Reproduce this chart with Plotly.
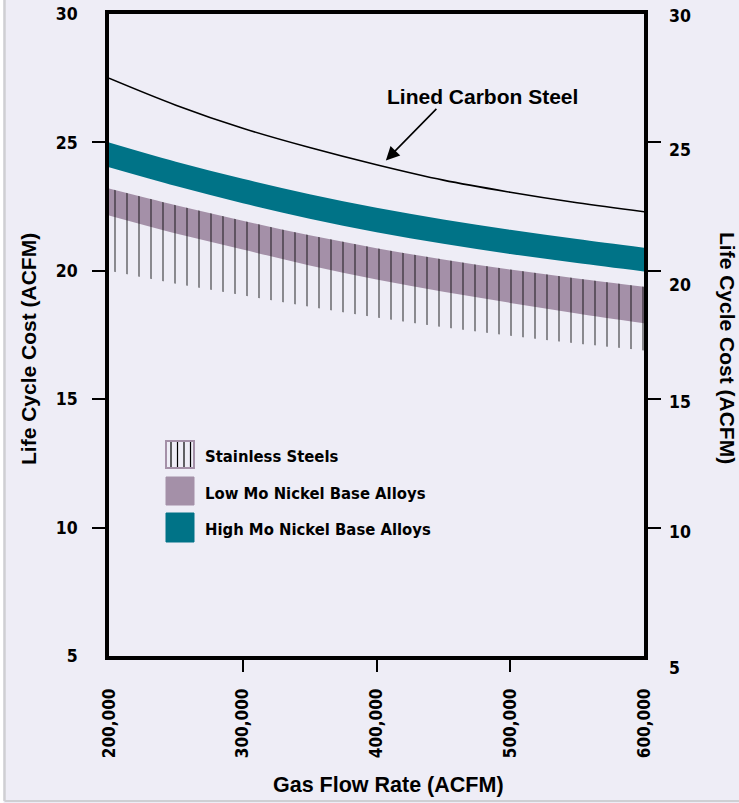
import plotly.graph_objects as go

# ---------------- data ----------------
gas_flow = [200000, 250000, 300000, 350000, 400000, 450000, 500000, 550000, 600000]
lined_carbon_steel = [27.5, 26.45, 25.55, 24.8, 24.13, 23.53, 23.06, 22.65, 22.3]
high_mo_top = [25.0, 24.25, 23.58, 22.98, 22.46, 22.0, 21.6, 21.24, 20.9]
high_mo_bottom = [24.03, 23.3, 22.63, 22.03, 21.5, 21.05, 20.65, 20.3, 19.97]
low_mo_top = [23.2, 22.55, 21.95, 21.38, 20.88, 20.44, 20.05, 19.7, 19.38]
low_mo_bottom = [22.15, 21.45, 20.83, 20.21, 19.66, 19.18, 18.75, 18.34, 17.96]
stainless_bottom = [20.0, 19.5, 19.05, 18.6, 18.18, 17.8, 17.47, 17.17, 16.9]

y_tick_vals = [5, 10, 15, 20, 25, 30]
y_inner_ticks = [10, 15, 20, 25]
x_tick_vals = [200000, 300000, 400000, 500000, 600000]
x_tick_text = ["200,000", "300,000", "400,000", "500,000", "600,000"]
x_inner_ticks = [300000, 400000, 500000]
legend_labels = ["Stainless Steels", "Low Mo Nickel Base Alloys", "High Mo Nickel Base Alloys"]
curve_label = "Lined Carbon Steel"
y_title = "Life Cycle Cost (ACFM)"
x_title = "Gas Flow Rate (ACFM)"

# ---------------- styling ----------------
BG = "#EEEDF6"
TEAL = "#007387"
PURPLE = "#A490A8"
NARROW = "DejaVu Sans Condensed, Liberation Sans Narrow, Arial Narrow, sans-serif"
SANS = "Liberation Sans, Arial, Helvetica, sans-serif"

W, H = 739, 803
L, R, T, B = 109, 95, 14, 147
PW, PH = W - L - R, H - T - B


def px(xp):
    return (xp - L) / PW


def py(yp):
    return (H - B - yp) / PH


fig = go.Figure()

# Low Mo band
fig.add_trace(go.Scatter(x=gas_flow, y=low_mo_bottom, mode="lines", line=dict(width=0, shape="spline"),
                         hoverinfo="skip", showlegend=False))
fig.add_trace(go.Scatter(x=gas_flow, y=low_mo_top, mode="lines", line=dict(width=0, shape="spline"),
                         fill="tonexty", fillcolor=PURPLE, showlegend=False, name=legend_labels[1]))
# Stainless steel hatch
fig.add_trace(go.Scatter(x=gas_flow, y=stainless_bottom, mode="lines", line=dict(width=0, shape="spline"),
                         hoverinfo="skip", showlegend=False))
fig.add_trace(go.Scatter(x=gas_flow, y=low_mo_top, mode="lines", line=dict(width=0, shape="spline"),
                         fill="tonexty", fillcolor="rgba(0,0,0,0)",
                         fillpattern=dict(shape="|", fgcolor="#000000", bgcolor="rgba(0,0,0,0)",
                                          size=12, solidity=0.14),
                         showlegend=False, name=legend_labels[0]))
# High Mo band
fig.add_trace(go.Scatter(x=gas_flow, y=high_mo_bottom, mode="lines", line=dict(width=0, shape="spline"),
                         hoverinfo="skip", showlegend=False))
fig.add_trace(go.Scatter(x=gas_flow, y=high_mo_top, mode="lines", line=dict(width=0, shape="spline"),
                         fill="tonexty", fillcolor=TEAL, showlegend=False, name=legend_labels[2]))
# Lined carbon steel
fig.add_trace(go.Scatter(x=gas_flow, y=lined_carbon_steel, mode="lines",
                         line=dict(color="black", width=1.6, shape="spline"),
                         showlegend=False, name=curve_label))

axis_font_y = dict(family=NARROW, size=17.5, color="black", weight="bold")
axis_font_x = dict(family=NARROW, size=17, color="black", weight="bold")
title_font = dict(family=SANS, size=21, color="black", weight="bold")

fig.update_layout(
    width=W, height=H,
    margin=dict(l=L, r=R, t=T, b=B, pad=0, autoexpand=False),
    paper_bgcolor=BG, plot_bgcolor=BG,
    showlegend=False,
    xaxis=dict(range=[200000, 600000], tickvals=x_tick_vals, ticktext=x_tick_text, tickangle=-90,
               ticks="", showgrid=False, zeroline=False, showline=True, linewidth=3.5,
               linecolor="black", mirror=True, tickfont=axis_font_x, ticklabelstandoff=22,
               automargin=False),
    yaxis=dict(range=[5, 30], tickvals=y_tick_vals, ticks="", showgrid=False, zeroline=False,
               showline=True, linewidth=3.5, linecolor="black", mirror=True,
               tickfont=axis_font_y, ticklabelstandoff=24, automargin=False),
    xaxis2=dict(range=[200000, 600000], overlaying="x", side="bottom", anchor="y",
                tickvals=x_inner_ticks, ticks="outside", ticklen=15, tickwidth=2, tickcolor="black",
                showticklabels=False, showgrid=False, zeroline=False, showline=False, automargin=False),
    yaxis3=dict(range=[5, 30], overlaying="y", side="left", anchor="x",
                tickvals=y_inner_ticks, ticks="outside", ticklen=16, tickwidth=2, tickcolor="black",
                showticklabels=False, showgrid=False, zeroline=False, showline=False, automargin=False),
    yaxis4=dict(range=[5, 30], overlaying="y", side="right", anchor="x",
                tickvals=y_inner_ticks, ticks="outside", ticklen=16, tickwidth=2, tickcolor="black",
                showticklabels=False, showgrid=False, zeroline=False, showline=False, automargin=False),
)

# invisible helpers so overlay axes are drawn
fig.add_trace(go.Scatter(x=[None], y=[None], xaxis="x2", yaxis="y", showlegend=False, hoverinfo="skip"))
fig.add_trace(go.Scatter(x=[None], y=[None], xaxis="x", yaxis="y3", showlegend=False, hoverinfo="skip"))
fig.add_trace(go.Scatter(x=[None], y=[None], xaxis="x", yaxis="y4", showlegend=False, hoverinfo="skip"))

annotations = []
shapes = []

# right-hand tick labels (slightly offset as in the original)
right_shift = {30: -2, 25: -8, 20: -14, 15: -3, 10: -4, 5: -12}
for v in y_tick_vals:
    annotations.append(dict(x=1, xref="paper", y=v, yref="y", text=str(v), showarrow=False,
                            xanchor="left", yanchor="middle", xshift=23, yshift=right_shift[v],
                            font=axis_font_y))

# axis titles
annotations.append(dict(x=px(28), y=py(349), xref="paper", yref="paper", text=y_title, textangle=-90,
                        xanchor="center", yanchor="middle", showarrow=False, font=title_font))
annotations.append(dict(x=px(727), y=py(348), xref="paper", yref="paper", text=y_title, textangle=90,
                        xanchor="center", yanchor="middle", showarrow=False, font=title_font))
annotations.append(dict(x=px(388), y=py(785), xref="paper", yref="paper", text=x_title,
                        xanchor="center", yanchor="middle", showarrow=False,
                        font=dict(family=SANS, size=21.5, color="black", weight="bold")))

# curve label with arrow
annotations.append(dict(x=px(482), y=py(96), xref="paper", yref="paper", text=curve_label,
                        xanchor="center", yanchor="middle", showarrow=False, font=title_font))
annotations.append(dict(x=407000, y=24.3, xref="x", yref="y", text="", showarrow=True,
                        ax=52, ay=-53, arrowhead=2, arrowsize=1.7, arrowwidth=1.6, arrowcolor="black"))

# legend (drawn by hand)
sw_x0, sw_x1 = 166, 194
sw_rows = [(441, 468), (477, 505), (513, 542)]
for i, (y0, y1) in enumerate(sw_rows):
    if i == 0:
        shapes.append(dict(type="rect", xref="paper", yref="paper", x0=px(sw_x0), x1=px(sw_x1),
                           y0=py(y1), y1=py(y0), fillcolor=BG, line=dict(color=PURPLE, width=2)))
        for lx in (171, 177.5, 184, 190.5):
            shapes.append(dict(type="line", xref="paper", yref="paper", x0=px(lx), x1=px(lx),
                               y0=py(y1 - 1), y1=py(y0 + 1), line=dict(color="#000000", width=1.2)))
    else:
        col = PURPLE if i == 1 else TEAL
        shapes.append(dict(type="rect", xref="paper", yref="paper", x0=px(sw_x0), x1=px(sw_x1),
                           y0=py(y1), y1=py(y0), fillcolor=col, line=dict(color=col, width=1)))
    annotations.append(dict(x=px(203), y=py((y0 + y1) / 2 + 2), xref="paper", yref="paper",
                            text=legend_labels[i], showarrow=False, xanchor="left", yanchor="middle",
                            font=dict(family=NARROW, size=16.5, color="black", weight="bold")))

# light frame at the left and bottom edge
shapes.append(dict(type="rect", xref="paper", yref="paper", x0=px(0), x1=px(3.5), y0=py(H), y1=py(0),
                   fillcolor="white", line=dict(width=0), layer="below"))
shapes.append(dict(type="line", xref="paper", yref="paper", x0=px(4.5), x1=px(4.5), y0=py(801), y1=py(0),
                   line=dict(color="#CFCFD3", width=2.5), layer="below"))
shapes.append(dict(type="line", xref="paper", yref="paper", x0=px(4.5), x1=px(W), y0=py(801), y1=py(801),
                   line=dict(color="#CFCFD3", width=2), layer="below"))

fig.update_layout(annotations=annotations, shapes=shapes)

fig.write_html("out.html", config={"displayModeBar": False},
               post_script="document.body.style.margin='0';document.body.style.padding='0';"
                           "document.body.style.overflow='hidden';")
